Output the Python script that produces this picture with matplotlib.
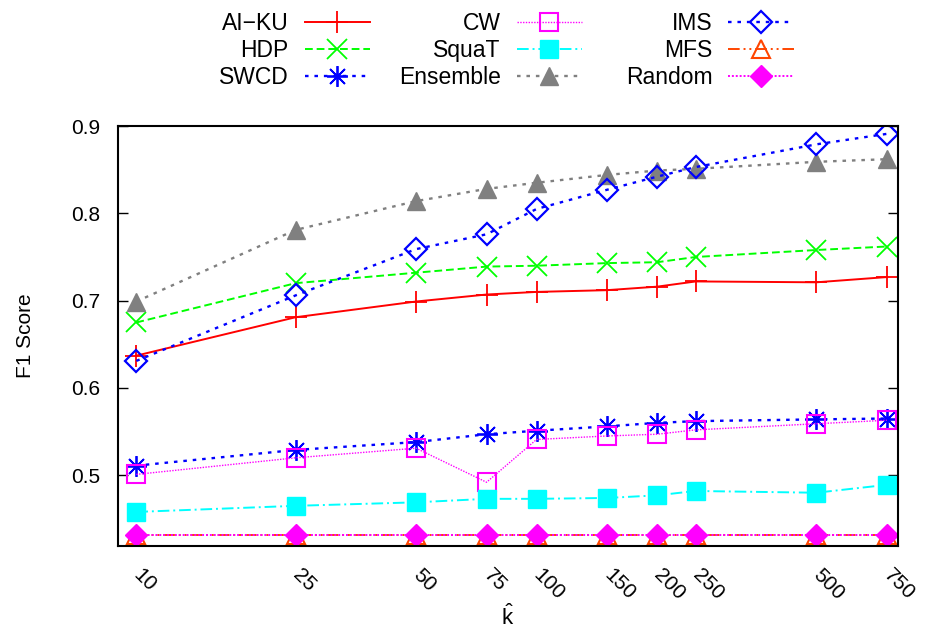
import matplotlib
matplotlib.use("Agg")
import matplotlib.pyplot as plt

plt.rcParams["font.family"] = ["Liberation Sans", "DejaVu Sans"]
plt.rcParams["mathtext.fontset"] = "custom"
plt.rcParams["mathtext.rm"] = "Liberation Sans"

# data
k_values = [10, 25, 50, 75, 100, 150, 200, 250, 500, 750]
ai_ku = [0.637, 0.681, 0.699, 0.707, 0.710, 0.712, 0.716, 0.722, 0.721, 0.727]
hdp = [0.675, 0.720, 0.732, 0.739, 0.740, 0.743, 0.744, 0.750, 0.758, 0.762]
swcd = [0.511, 0.529, 0.538, 0.547, 0.551, 0.556, 0.560, 0.562, 0.564, 0.565]
cw = [0.501, 0.520, 0.531, 0.492, 0.541, 0.545, 0.547, 0.552, 0.559, 0.563]
squat = [0.458, 0.465, 0.469, 0.473, 0.473, 0.474, 0.477, 0.482, 0.480, 0.489]
ensemble = [0.699, 0.781, 0.814, 0.828, 0.835, 0.844, 0.849, 0.851, 0.859, 0.862]
ims = [0.631, 0.706, 0.759, 0.776, 0.805, 0.827, 0.842, 0.853, 0.879, 0.891]
mfs = [0.432] * 10
rand = [0.432] * 10
tick_labels = ["10", "25", "50", "75", "100", "150", "200", "250", "500", "750"]

fig = plt.figure(figsize=(9.25, 6.32), dpi=100)
ax = fig.add_axes([0.1276, 0.1361, 0.8432, 0.6645])

ax.plot(k_values, ai_ku, color="#ff0000", ls="-", lw=1.4, marker="+", ms=16, mew=1.3, label="AI\u2212KU")
ax.plot(k_values, hdp, color="#00ff00", ls=(0, (4, 2)), lw=1.4, marker="x", ms=14, mew=1.3, label="HDP")
ax.plot(k_values, swcd, color="#0000ff", ls=(0, (1.5, 2.5)), lw=1.7, marker=(8, 2, 0), ms=15, mew=1.3, label="SWCD")
ax.plot(k_values, cw, color="#ff00ff", ls=(0, (1, 1)), lw=1.0, marker="s", ms=13, mfc="none", mew=1.5, label="CW")
ax.plot(k_values, squat, color="#00ffff", ls=(0, (6, 2, 1, 2)), lw=1.4, marker="s", ms=13, label="SquaT")
ax.plot(k_values, ensemble, color="#808080", ls=(0, (1.5, 2.5)), lw=1.7, marker="^", ms=13, label="Ensemble")
ax.plot(k_values, ims, color="#0000ff", ls=(0, (1.5, 2.5)), lw=1.7, marker="D", ms=11, mfc="none", mew=1.6, label="IMS")
ax.plot(k_values, mfs, color="#ff4500", ls=(0, (6, 2, 1, 2, 1, 2)), lw=1.4, marker="^", ms=13, mfc="none", mew=1.5, label="MFS")
ax.plot(k_values, rand, color="#ff00ff", ls=(0, (1, 1)), lw=1.4, marker="D", ms=11, label="Random")

ax.set_xscale("log")
ax.set_xlim(9, 800)
ax.set_ylim(0.419, 0.9)
ax.set_xticks(k_values)
ax.set_xticklabels(tick_labels, rotation=-45, ha="left", va="center", rotation_mode="anchor")
ax.xaxis.set_minor_locator(matplotlib.ticker.NullLocator())
ax.set_yticks([0.5, 0.6, 0.7, 0.8, 0.9])
ax.set_yticklabels(["0.5", "0.6", "0.7", "0.8", "0.9"])
ax.tick_params(axis="y", direction="in", length=7, width=1, right=True, labelsize=15, pad=13)
ax.tick_params(axis="x", direction="in", length=0, labelsize=15, pad=19)
for s in ax.spines.values():
    s.set_linewidth(1.5)

ax.set_ylabel("F1 Score", fontsize=15, labelpad=26)
ax.set_xlabel(r"$\hat{\mathrm{k}}$", fontsize=16, labelpad=0)

# three key columns, equal widths like gnuplot
handles, labels = ax.get_legend_handles_labels()
anchors = [0.410, 0.639, 0.868]
for i in range(3):
    fig.legend(handles[3 * i:3 * i + 3], labels[3 * i:3 * i + 3],
               loc="upper right", bbox_to_anchor=(anchors[i], 0.995),
               markerfirst=False, frameon=False, fontsize=16.5,
               handlelength=2.85, handletextpad=0.7, labelspacing=0.17,
               borderaxespad=0)

fig.savefig("out.png", dpi=100)
